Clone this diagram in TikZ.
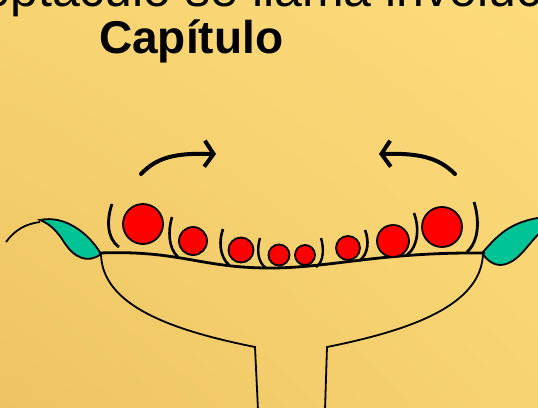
\documentclass[tikz,border=0pt]{standalone}
\usepackage{fontspec}
\setmainfont{Liberation Sans}
\usetikzlibrary{arrows.meta,shadings}

\definecolor{bgdark}{RGB}{237,196,98}
\definecolor{bgmid}{RGB}{248,211,114}
\definecolor{bglight}{RGB}{253,220,123}
\definecolor{bract}{RGB}{0,196,150}
\definecolor{floret}{RGB}{255,0,0}

\begin{document}
\begin{tikzpicture}[x=1pt,y=-1pt]
  \useasboundingbox (0,0) rectangle (538,407);
  \clip (0,0) rectangle (538,407);
  \shade [lower left=bgdark, upper right=bglight, upper left=bgmid, lower right=bgmid] (0,0) rectangle (538,407);

  \node [anchor=base west,inner sep=0pt,font=\fontsize{50}{56}\selectfont] (involucro) at (-87,6.5) {receptáculo se llama involucro};
  \node [anchor=base west,inner sep=0pt,font=\bfseries\fontsize{46}{52}\selectfont] (capitulo) at (99,53) {Capítulo};

  % turning arrows
  \draw [line width=4pt,line cap=round,-{Straight Barb[length=9pt,width=26pt]}] (141,174) .. controls (158,156) and (178,153) .. (216,154);
  \draw [line width=4pt,line cap=round,-{Straight Barb[length=9pt,width=26pt]}] (455,174) .. controls (438,157) and (418,153) .. (379,154);

  % bracts
  \draw [line width=1.8pt] (6,242) .. controls (15,230) and (25,224) .. (40,222);
  \draw [line width=1.8pt,fill=bract] (40,220) .. controls (64,215) and (88,232) .. (101,254) .. controls (88,264) and (74,258) .. (64,242) .. controls (57,231) and (50,224) .. (40,220) -- cycle;
  \draw [line width=1.8pt,fill=bract] (482,253) .. controls (496,238) and (508,221) .. (545,217) -- (545,228) .. controls (528,242) and (520,263) .. (501,265) .. controls (492,265) and (486,259) .. (482,253) -- cycle;

  % receptacle
  \draw [line width=2.8pt,line cap=round] (100,253) .. controls (180,250) and (200,268) .. (270,268) .. controls (330,268) and (380,252) .. (484,253);
  \draw [line width=1.8pt] (101,254) .. controls (102,305) and (170,330) .. (255,347) -- (258,410);
  \draw [line width=1.8pt] (483,254) .. controls (481,305) and (412,330) .. (327,347) -- (325,410);

  % florets with their scales
  \draw [line width=2.8pt] (112,204) .. controls (107,218) and (106,238) .. (119,247);
  \draw [line width=2.6pt] (172,217) .. controls (168,230) and (168,248) .. (178,257);
  \draw [line width=2.6pt] (223,229) .. controls (219,240) and (219,256) .. (229,265);
  \draw [line width=2.4pt] (260,238) .. controls (257,248) and (257,262) .. (266,268);
  \draw [line width=2.4pt] (321,238) .. controls (324,248) and (324,262) .. (316,267);
  \draw [line width=2.6pt] (365,230) .. controls (369,240) and (369,254) .. (359,261);
  \draw [line width=2.6pt] (414,213) .. controls (419,226) and (419,246) .. (407,255);
  \draw [line width=2.8pt] (474,202) .. controls (479,218) and (480,240) .. (467,252);

  \draw [line width=1.8pt,fill=floret] (143,224) circle (20);
  \draw [line width=1.8pt,fill=floret] (193,241) circle (14);
  \draw [line width=1.8pt,fill=floret] (241,250) circle (12.5);
  \draw [line width=1.8pt,fill=floret] (279,255) circle (10.5);
  \draw [line width=1.8pt,fill=floret] (305,255) circle (10);
  \draw [line width=1.8pt,fill=floret] (348,248) circle (12);
  \draw [line width=1.8pt,fill=floret] (393,241) circle (16);
  \draw [line width=1.8pt,fill=floret] (442,227) circle (20);
  %\draw [line width=1.6pt,fill=floret] (279,255) circle (9);
\end{tikzpicture}
\end{document}
